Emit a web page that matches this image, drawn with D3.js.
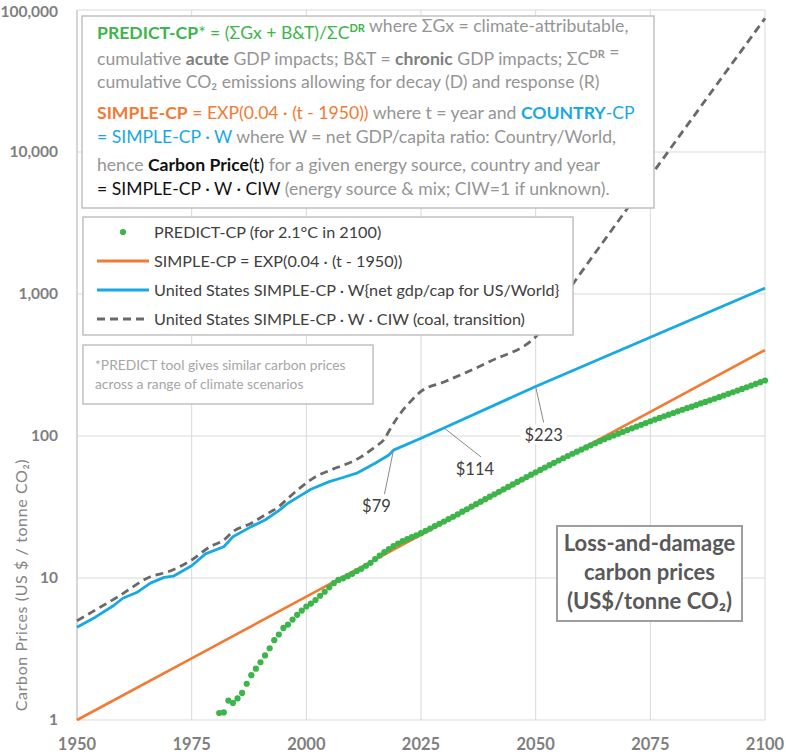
<!DOCTYPE html>
<html><head><meta charset="utf-8">
<script src="https://cdn.jsdelivr.net/npm/d3@7/dist/d3.min.js"></script>
<style>
body{margin:0;background:#fff;}
svg{display:block;font-family:Lato,"Noto Sans",sans-serif;}
</style>
</head><body>
<svg id="c" width="786" height="754"></svg>
<script>
// ---------------- DATA ----------------
const xTicks = [1950, 1975, 2000, 2025, 2050, 2075, 2100];
const yTicks = [1, 10, 100, 1000, 10000, 100000];

// SIMPLE-CP (orange)
const simpleYears  = [1950, 1975, 2000, 2025, 2050, 2075, 2100];
const simpleValues = [1, 2.72, 7.39, 20.1, 54.6, 148, 403];

// United States SIMPLE-CP · W (blue)
const usYears  = [1950,1954,1958,1960,1963,1966,1969,1971,1975,1978,1982,1984,1988,1991,1994,1996,1999,2001,2005,2008,2011,2015,2018,2019,2025,2030,2050,2100];
const usValues = [4.5,5.3,6.4,7.2,7.9,9.2,10.1,10.3,12.2,14.8,16.6,19.5,23,25.6,29.8,33.6,38.5,42.2,47.7,51,54.7,64.3,73.5,79.5,96.5,114,223,1100];

// United States SIMPLE-CP · W · CIW (dashed)
const ciwYears  = [1950,1954,1959,1966,1970,1975,1979,1982,1984,1988,1991,1994,1996,1999,2002,2005,2012,2015,2017,2018,2020,2023,2025,2030,2040,2050,2059,2070,2076,2100];
const ciwValues = [5.0,5.95,7.4,10.2,11.1,13.4,16.6,18.5,21.2,24.3,27.8,31.8,36.4,44,51.7,57,71.5,84,95,108,137,179,206,240,335,500,1290,4010,7470,87400];

// PREDICT-CP (green dots), one per year starting 1981
const predictStartYear = 1981;
const predictValues = [
  1.12,1.13,1.37,1.32,1.42,1.55,1.8,2.07,2.3,2.55,          // 1981-1990
  2.85,3.2,3.65,4.0,4.45,4.7,5.1,5.5,5.9,6.3,               // 1991-2000
  6.6,7.0,7.5,8.0,8.6,9.2,9.7,9.95,10.3,10.7,              // 2001-2010
  11.2,11.6,12.2,12.8,13.6,14.4,15.2,16.0,16.8,17.5,        // 2011-2020
  18.2,18.8,19.4,20.0,20.7,21.5,22.3,23.2,24.1,25.0,        // 2021-2030
  26.0,27.0,28.1,29.3,30.5,31.8,33.1,34.5,35.9,37.4,        // 2031-2040
  38.9,40.5,42.1,43.8,45.6,47.5,49.4,51.4,53.4,55.5,        // 2041-2050
  57.7,60.0,62.3,64.7,67.2,69.7,72.3,75.0,77.6,80.3,        // 2051-2060
  83.1,86.0,88.9,91.9,94.9,97.8,100.8,103.8,106.9,110.0,    // 2061-2070
  113.2,116.5,119.9,123.4,127.0,130.5,134.1,137.7,141.4,145.2, // 2071-2080
  149.1,153.0,157.0,161.0,165.2,169.5,173.9,178.4,183.0,187.8, // 2081-2090
  192.8,198.0,203.3,208.8,214.5,220.5,226.7,233.0,239.5,246.0  // 2091-2100
];

// annotations on the US line
const noteYears  = [2019, 2030, 2050];
const noteValues = [79.5, 114, 223];
const noteLabels = ["$79", "$114", "$223"];

const legendLabels = [
  "PREDICT-CP (for 2.1°C in 2100)",
  "SIMPLE-CP = EXP(0.04 · (t - 1950))",
  "United States SIMPLE-CP · W{net gdp/cap for US/World}",
  "United States SIMPLE-CP · W · CIW (coal, transition)"
];

const yTitle = "Carbon Prices (US $ / tonne CO₂)";
const noteText = ["*PREDICT tool gives similar carbon prices", "across a range of climate scenarios"];
const titleLines = ["Loss-and-damage", "carbon prices", "(US$/tonne CO₂)"];

// ---------------- DRAW ----------------
const C = {green:"#3CB54A", orange:"#F27A33", blue:"#18A9E4", dash:"#696969",
           grid:"#D9D9D9", tick:"#7F7F7F", text:"#404040", gray:"#959595", grayB:"#7F7F7F"};
const L = 77, R = 765, T = 10, B = 720;
const svg = d3.select("#c");
const x = d3.scaleLinear().domain([1950, 2100]).range([L, R]);
const y = d3.scaleLog().domain([1, 100000]).range([B, T]);

// gridlines
svg.append("g").selectAll("line").data(xTicks).join("line")
  .attr("x1", d => x(d)).attr("x2", d => x(d)).attr("y1", T).attr("y2", B)
  .attr("stroke", C.grid).attr("stroke-width", 1);
svg.append("g").selectAll("line").data(yTicks).join("line")
  .attr("x1", L).attr("x2", R).attr("y1", d => y(d)).attr("y2", d => y(d))
  .attr("stroke", C.grid).attr("stroke-width", 1);
svg.append("line").attr("x1", L).attr("x2", L).attr("y1", T).attr("y2", B)
  .attr("stroke", "#C8C8C8").attr("stroke-width", 1.2);

// tick labels (top label kept fully inside the canvas)
const fmt = d3.format(",");
svg.append("g").selectAll("text").data(yTicks).join("text")
  .attr("x", L - 19).attr("y", d => Math.max(y(d), 11.5)).attr("dy", "0.35em").attr("text-anchor", "end")
  .attr("fill", C.tick).attr("font-size", 15.5).attr("font-weight", 700).text(d => fmt(d));
svg.append("g").selectAll("text").data(xTicks).join("text")
  .attr("x", d => x(d)).attr("y", 750).attr("text-anchor", "middle")
  .attr("fill", C.tick).attr("font-size", 16.5).attr("font-weight", 700).text(d => d);

// y-axis title
svg.append("text").attr("transform", "translate(27,585) rotate(-90)")
  .attr("text-anchor", "middle").attr("fill", "#858585").attr("font-size", 16)
  .attr("letter-spacing", 0.6).text(yTitle);

const line = d3.line().x(d => x(d[0])).y(d => y(d[1]));

// orange SIMPLE-CP
svg.append("path").datum(d3.zip(simpleYears, simpleValues)).attr("d", line)
  .attr("fill", "none").attr("stroke", C.orange).attr("stroke-width", 2.6);

// green dots
const predict = predictValues.map((v, i) => [predictStartYear + i, v]);
svg.append("g").selectAll("circle").data(predict).join("circle")
  .attr("cx", d => x(d[0])).attr("cy", d => y(d[1])).attr("r", 3.1).attr("fill", C.green);

// blue US line
svg.append("path").datum(d3.zip(usYears, usValues)).attr("d", line)
  .attr("fill", "none").attr("stroke", C.blue).attr("stroke-width", 2.8).attr("stroke-linejoin", "round");

// dashed CIW line
svg.append("path").datum(d3.zip(ciwYears, ciwValues))
  .attr("d", d3.line().x(d => x(d[0])).y(d => y(d[1])).curve(d3.curveMonotoneX))
  .attr("fill", "none").attr("stroke", C.dash).attr("stroke-width", 2.8).attr("stroke-dasharray", "8,5");

// ---------- boxes ----------
function box(x0, y0, w, h, stroke, sw) {
  svg.append("rect").attr("x", x0).attr("y", y0).attr("width", w).attr("height", h)
    .attr("fill", "#fff").attr("stroke", stroke).attr("stroke-width", sw || 1.3);
}

// top formula box
box(82, 16, 572, 192, "#BDBDBD", 1.4);
const S = {
  g:{fill:C.green}, gb:{fill:C.green, w:700}, o:{fill:C.orange}, ob:{fill:C.orange, w:700},
  b:{fill:C.blue}, bb:{fill:C.blue, w:700}, k:{fill:"#111"}, kb:{fill:"#111", w:700},
  n:{fill:C.gray}, nb:{fill:C.grayB, w:700}
};
const formula = [
  {y:39,  segs:[["PREDICT-CP","gb"],["* = (ΣGx + B&T)/ΣC","g"],["DR","gsup"],[" where ΣGx = climate-attributable,","n"]]},
  {y:65,  segs:[["cumulative ","n"],["acute","nb"],[" GDP impacts; B&T = ","n"],["chronic","nb"],[" GDP impacts; ΣC","n"],["DR","nsup"],[" =","n"]]},
  {y:88,  segs:[["cumulative CO₂ emissions allowing for decay (D) and response (R)","n"]]},
  {y:119, segs:[["SIMPLE-CP","ob"],[" = EXP(0.04 · (t - 1950))","o"],[" where t = year and ","n"],["COUNTRY","bb"],["-CP","b"]]},
  {y:143, segs:[["= SIMPLE-CP · W","b"],[" where W = net GDP/capita ratio: Country/World,","n"]]},
  {y:171, segs:[["hence ","n"],["Carbon Price","kb"],["(t)","k"],[" for a given energy source, country and year","n"]]},
  {y:195, segs:[["= SIMPLE-CP · W · CIW","k"],[" (energy source & mix; CIW=1 if unknown).","n"]]}
];
formula.forEach(l => {
  const t = svg.append("text").attr("x", 97).attr("y", l.y).attr("font-size", 17.6);
  l.segs.forEach(([s, st]) => {
    if (st.endsWith("sup")) {
      t.append("tspan").attr("fill", st[0] === "g" ? C.green : C.gray).attr("font-size", 11)
        .attr("font-weight", 700).attr("dy", -7).text(s);
      t.append("tspan").attr("dy", 7).text("");
    } else {
      const sty = S[st];
      t.append("tspan").attr("fill", sty.fill).attr("font-weight", sty.w || 400).text(s);
    }
  });
});

// legend box
box(83, 217, 490, 118, "#BDBDBD", 1.4);
const legY = [232, 261, 290, 319];
const lg = svg.append("g");
legendLabels.forEach((lab, i) => {
  const cy = legY[i];
  if (i === 0) lg.append("circle").attr("cx", 123).attr("cy", cy).attr("r", 3.1).attr("fill", C.green);
  else lg.append("line").attr("x1", 97).attr("x2", 149).attr("y1", cy).attr("y2", cy)
    .attr("stroke", [null, C.orange, C.blue, C.dash][i]).attr("stroke-width", 2.8)
    .attr("stroke-dasharray", i === 3 ? "8,5" : null);
  lg.append("text").attr("x", 154).attr("y", cy + 5.5).attr("font-size", 16.2)
    .attr("fill", C.text).text(lab);
});

// note box
box(83, 345, 290, 59, "#BDBDBD", 1.4);
noteText.forEach((s, i) => svg.append("text").attr("x", 95).attr("y", 370 + i * 19)
  .attr("font-size", 13.8).attr("fill", "#A6A6A6").text(s));

// title box
box(557, 526, 185, 95, "#9E9E9E", 2);
titleLines.forEach((s, i) => svg.append("text").attr("x", 649.5).attr("y", 551 + i * 29)
  .attr("text-anchor", "middle").attr("font-size", 22).attr("font-weight", 700)
  .attr("fill", "#595959").text(s));

// annotations
const offs = [[-17, 56], [31, 41], [8, 48]];
noteLabels.forEach((lab, i) => {
  const px = x(noteYears[i]), py = y(noteValues[i]);
  const lx = px + offs[i][0], ly = py + offs[i][1];
  svg.append("line").attr("x1", px).attr("y1", py)
    .attr("x2", lx + (i === 0 ? 8 : (i === 1 ? 6 : 0))).attr("y2", ly - 12)
    .attr("stroke", "#8A8A8A").attr("stroke-width", 1);
  const t = svg.append("text").attr("x", lx).attr("y", ly + 6).attr("text-anchor", "middle")
    .attr("font-size", 16.5).attr("fill", C.text).text(lab);
  const bb = t.node().getBBox();
  svg.insert("rect", () => t.node()).attr("x", bb.x - 4).attr("y", bb.y).attr("width", bb.width + 8)
    .attr("height", bb.height).attr("fill", "#fff");
});
</script>
</body></html>
